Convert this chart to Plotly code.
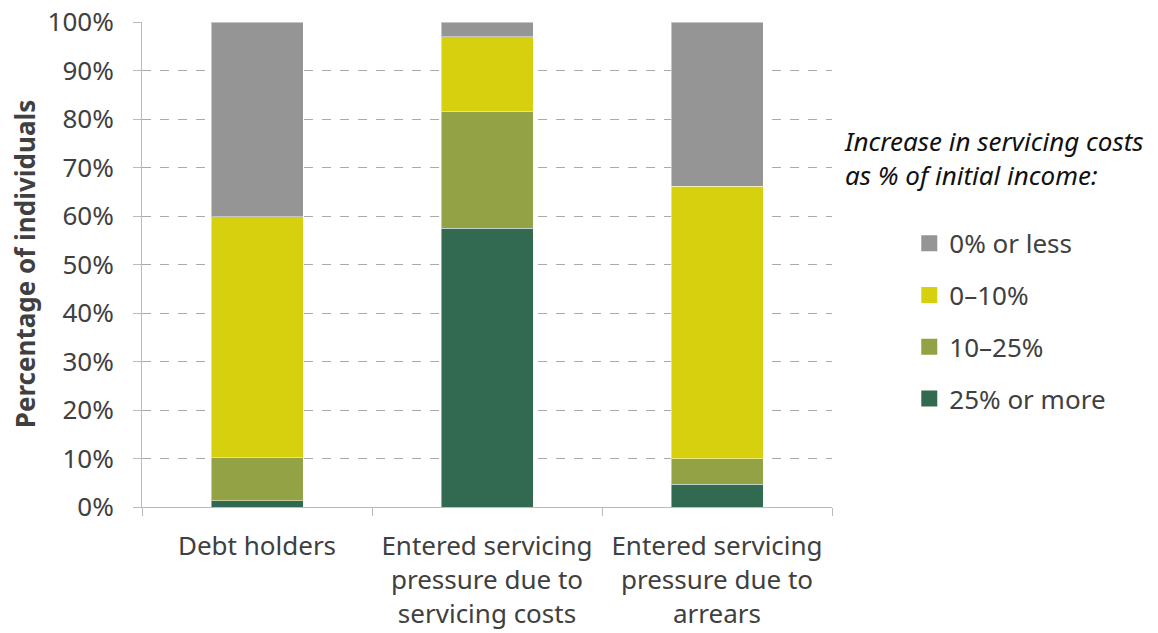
import plotly.graph_objects as go

categories = [
    "Debt holders",
    "Entered servicing<br>pressure due to<br>servicing costs",
    "Entered servicing<br>pressure due to<br>arrears",
]

# Share of individuals in each band of servicing-cost increase (%)
share_25_plus = [1.3, 57.5, 4.7]
share_10_25 = [8.9, 24.0, 5.2]
share_0_10 = [49.6, 15.5, 56.2]
share_0_or_less = [40.2, 3.0, 33.9]

series = [
    ("25% or more", share_25_plus, "#326A51"),
    ("10–25%", share_10_25, "#94A246"),
    ("0–10%", share_0_10, "#D6D00E"),
    ("0% or less", share_0_or_less, "#959595"),
]

y_ticks = list(range(0, 101, 10))
y_tick_labels = [f"{v}%" for v in y_ticks]

FONT = "Noto Sans"
TEXT = "#404040"
SIZE = 26

fig = go.Figure()
for name, vals, color in series:
    fig.add_trace(go.Bar(
        x=categories, y=vals, name=name, showlegend=False,
        marker=dict(color=color, line=dict(color="rgba(255,255,255,0.45)", width=1)),
        width=0.4,
    ))

# legend entries drawn as square markers so the swatches are larger;
# listed top band first
for name, vals, color in reversed(series):
    fig.add_trace(go.Scatter(
        x=[None], y=[None], mode="markers", name=name,
        marker=dict(symbol="square", size=16, color=color),
        legendgroup=name,
    ))

fig.update_layout(
    barmode="stack",
    width=1158, height=633,
    margin=dict(l=142, r=326, t=22, b=126, autoexpand=False),
    plot_bgcolor="white", paper_bgcolor="white",
    font=dict(family=FONT, size=SIZE, color=TEXT),
    bargap=0.6,
    legend=dict(
        x=1.112, xanchor="left", y=0.383, yanchor="middle",
        traceorder="grouped", tracegroupgap=15,
        font=dict(size=SIZE, color=TEXT),
        itemwidth=30,
    ),
    annotations=[
        dict(
            x=1.014, xref="paper", xanchor="left",
            y=0.72, yref="paper", yanchor="middle",
            text="<i>Increase in servicing costs<br>as % of initial income:</i>",
            showarrow=False, align="left",
            font=dict(size=SIZE, color="#111111"),
        ),
        dict(
            x=-0.170, xref="paper", xanchor="center",
            y=0.5, yref="paper", yanchor="middle",
            text="<b>Percentage of individuals</b>", textangle=-90,
            showarrow=False, font=dict(size=SIZE, color=TEXT),
        ),
    ],
)

fig.update_yaxes(
    range=[0, 100], tickvals=y_ticks, ticktext=y_tick_labels,
    showgrid=True, gridcolor="#AAAAAA", griddash="dash", gridwidth=1,
    showline=True, linecolor="#BBBBBB", linewidth=1,
    ticks="outside", ticklen=8, tickcolor="#BBBBBB",
    ticklabelstandoff=14, zeroline=False, automargin=False,
)
fig.update_xaxes(
    showline=True, linecolor="#BBBBBB", linewidth=1,
    ticks="outside", ticklen=8, tickcolor="#BBBBBB", tickson="boundaries",
    ticklabelstandoff=16, automargin=False,
    showgrid=False,
)

fig.write_html("out.html")
